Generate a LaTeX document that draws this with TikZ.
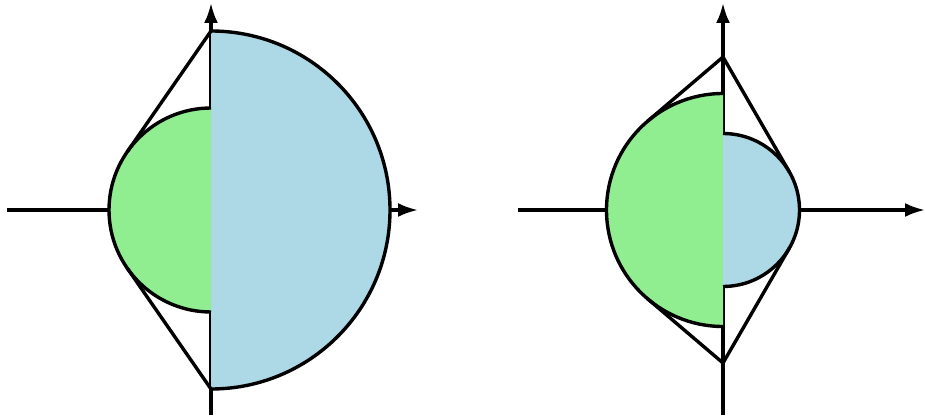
\documentclass[tikz,border=0pt]{standalone}
\usetikzlibrary{arrows.meta,calc}
\definecolor{halfblue}{HTML}{ADD8E6}
\definecolor{halfgreen}{HTML}{90EE90}
\tikzset{
  axis/.style={line width=3.2pt,-{Latex[length=20pt,width=14pt]}},
  rim/.style={line width=3.4pt},
  tang/.style={line width=3.4pt,line cap=round},
}
\begin{document}
\begin{tikzpicture}[x=1pt,y=1pt]
\useasboundingbox (0,0) rectangle (925,415);
% ---------- left figure ----------
\coordinate (L) at (211,205);
\draw[axis] (211,0) -- (211,412);
\draw[axis] (7,205) -- (418,205);
\fill[halfblue] ($(L)+(0,179)$) arc[start angle=90,end angle=-90,radius=179] -- cycle;
\draw[rim] ($(L)+(0,179)$) arc[start angle=90,end angle=-90,radius=179];
\fill[halfgreen] ($(L)+(0,102)$) arc[start angle=90,end angle=270,radius=102] -- cycle;
\draw[rim] ($(L)+(0,102)$) arc[start angle=90,end angle=270,radius=102];
\coordinate (LT) at ($(L)+(0,179)$);
\coordinate (LB) at ($(L)+(0,-179)$);
\coordinate (LTt) at ($(L)+(145.25:102)$);
\coordinate (LBt) at ($(L)+(214.75:102)$);
\draw[tang] (LT) -- (LTt);
\draw[tang] (LB) -- (LBt);
% ---------- right figure ----------
\coordinate (R) at (723,205);
\draw[axis] (723,0) -- (723,412);
\draw[axis] (518,205) -- (925,205);
\fill[halfgreen] ($(R)+(0,116.5)$) arc[start angle=90,end angle=270,radius=116.5] -- cycle;
\draw[rim] ($(R)+(0,116.5)$) arc[start angle=90,end angle=270,radius=116.5];
\fill[halfblue] ($(R)+(0,76.5)$) arc[start angle=90,end angle=-90,radius=76.5] -- cycle;
\draw[rim] ($(R)+(0,76.5)$) arc[start angle=90,end angle=-90,radius=76.5];
\coordinate (RT) at ($(R)+(0,153)$);
\coordinate (RB) at ($(R)+(0,-153)$);
\coordinate (RTg) at ($(R)+(130.4:116.5)$);
\coordinate (RBg) at ($(R)+(229.6:116.5)$);
\coordinate (RTb) at ($(R)+(30:76.5)$);
\coordinate (RBb) at ($(R)+(-30:76.5)$);
\draw[tang] (RTg) -- (RT) -- (RTb);
\draw[tang] (RBg) -- (RB) -- (RBb);
\end{tikzpicture}
\end{document}
